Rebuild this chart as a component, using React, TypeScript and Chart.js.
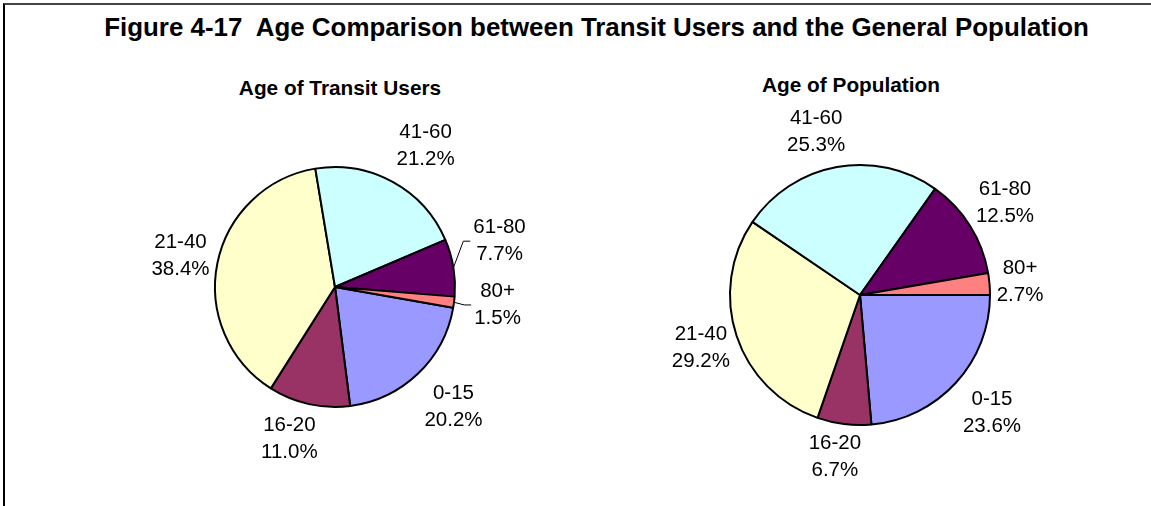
import React, { useEffect, useRef } from 'react';
import { Chart, registerables } from 'chart.js';

Chart.register(...registerables);

// ---- data ----
const categories = ['0-15', '16-20', '21-40', '41-60', '61-80', '80+'];
const transitUsers = [20.2, 11.0, 38.4, 21.2, 7.7, 1.5];
const population = [23.6, 6.7, 29.2, 25.3, 12.5, 2.7];
const sliceColors = ['#9999FF', '#993366', '#FFFFCC', '#CCFFFF', '#660066', '#FF8080'];

const mainTitle = 'Figure 4-17  Age Comparison between Transit Users and the General Population';
const transitTitle = 'Age of Transit Users';
const populationTitle = 'Age of Population';

const FONT = '"Liberation Sans", Arial, Helvetica, sans-serif';

// label layout (radial offset beyond the pie edge, angular shift in degrees)
const transitLabelOffset = [48.6, 38.7, 37.6, 48, 50.8, 43.5];
const transitLabelShift = [-1, 4.2, 0, 3.9, -6.3, -1];
const transitLeader = [false, false, false, false, true, true];
const popLabelOffset = [47, 34, 37.6, 38.8, 42, 30.6];
const popLabelShift = [-0.7, 1.8, 0, -4.8, -0.3, 0];
const popLeader = [false, false, false, false, false, false];

const outsideLabels = {
  id: 'outsideLabels',
  afterDatasetsDraw(chart: any, _args: any, opts: any) {
    const ctx = chart.ctx as CanvasRenderingContext2D;
    const meta = chart.getDatasetMeta(0);
    const values = chart.data.datasets[0].data as number[];
    ctx.save();
    ctx.font = opts.font;
    ctx.fillStyle = '#000';
    ctx.textAlign = 'center';
    ctx.textBaseline = 'middle';
    meta.data.forEach((arc: any, i: number) => {
      const p = arc.getProps(['x', 'y', 'startAngle', 'endAngle', 'outerRadius'], true);
      const mid = (p.startAngle + p.endAngle) / 2;
      const a = mid + (opts.angleShift[i] * Math.PI) / 180;
      const d = p.outerRadius + opts.offset[i];
      const cx = p.x + d * Math.cos(a);
      const cy = p.y + d * Math.sin(a);
      const l1 = String(chart.data.labels[i]);
      const l2 = values[i].toFixed(1) + '%';
      ctx.fillText(l1, cx, cy - opts.lineGap / 2);
      ctx.fillText(l2, cx, cy + opts.lineGap / 2);
      if (opts.leader[i]) {
        const w = Math.max(ctx.measureText(l1).width, ctx.measureText(l2).width);
        const left = cx - w / 2;
        const sx = p.x + p.outerRadius * Math.cos(mid);
        const sy = p.y + p.outerRadius * Math.sin(mid);
        ctx.beginPath();
        ctx.strokeStyle = '#000';
        ctx.lineWidth = 1;
        ctx.moveTo(sx, sy);
        ctx.lineTo(left - 10, cy);
        ctx.lineTo(left - 3, cy);
        ctx.stroke();
      }
    });
    ctx.restore();
  },
};

function PieCanvas(props: {
  values: number[];
  rotation: number;
  size: number;
  padding: number;
  offset: number[];
  shift: number[];
  leader: boolean[];
  style: React.CSSProperties;
}) {
  const ref = useRef<HTMLCanvasElement | null>(null);
  useEffect(() => {
    if (!ref.current) return;
    const chart = new Chart(ref.current, {
      type: 'pie',
      data: {
        labels: categories,
        datasets: [
          {
            data: props.values,
            backgroundColor: sliceColors,
            borderColor: '#000000',
            borderWidth: 2,
          },
        ],
      },
      options: {
        animation: false,
        responsive: false,
        rotation: props.rotation,
        layout: { padding: props.padding },
        plugins: {
          legend: { display: false },
          tooltip: { enabled: false },
          title: { display: false },
          outsideLabels: {
            font: `20.5px ${FONT}`,
            lineGap: 27,
            offset: props.offset,
            angleShift: props.shift,
            leader: props.leader,
          },
        } as any,
      },
      plugins: [outsideLabels as any],
    });
    return () => chart.destroy();
  }, []);
  return <canvas ref={ref} width={props.size} height={props.size} style={{ position: 'absolute', ...props.style }} />;
}

export default function App() {
  return (
    <div
      style={{
        position: 'absolute',
        left: 0,
        top: 0,
        width: 1151,
        height: 506,
        overflow: 'hidden',
        background: '#fff',
        fontFamily: FONT,
      }}
    >
      <div
        style={{
          position: 'absolute',
          left: 3,
          top: 3,
          width: 1200,
          height: 560,
          borderLeft: '2px solid #000',
          borderTop: '2px solid #444',
        }}
      />
      <div
        style={{
          position: 'absolute',
          left: 96.5,
          top: 14.8,
          width: 1000,
          textAlign: 'center',
          whiteSpace: 'pre',
          fontWeight: 'bold',
          fontSize: 25.9,
          lineHeight: 1,
          color: '#000',
        }}
      >
        {mainTitle}
      </div>
      <div
        style={{
          position: 'absolute',
          left: 140,
          top: 78.4,
          width: 400,
          textAlign: 'center',
          whiteSpace: 'nowrap',
          fontWeight: 'bold',
          fontSize: 20.8,
          lineHeight: 1,
        }}
      >
        {transitTitle}
      </div>
      <div
        style={{
          position: 'absolute',
          left: 651,
          top: 75.1,
          width: 400,
          textAlign: 'center',
          whiteSpace: 'nowrap',
          fontWeight: 'bold',
          fontSize: 20.8,
          lineHeight: 1,
        }}
      >
        {populationTitle}
      </div>
      <PieCanvas
        values={transitUsers}
        rotation={100}
        size={400}
        padding={79}
        offset={transitLabelOffset}
        shift={transitLabelShift}
        leader={transitLeader}
        style={{ left: 134.5, top: 87 }}
      />
      <PieCanvas
        values={population}
        rotation={90}
        size={440}
        padding={89}
        offset={popLabelOffset}
        shift={popLabelShift}
        leader={popLeader}
        style={{ left: 640, top: 75 }}
      />
    </div>
  );
}
